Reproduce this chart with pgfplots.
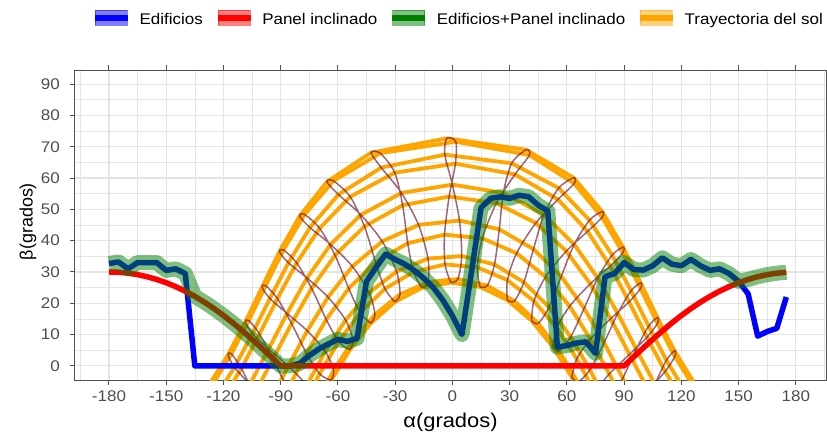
\documentclass[border=0pt]{standalone}
\usepackage{fontspec}
\setmainfont[FakeStretch=1.1]{Liberation Sans}
\newfontfamily\ylabfont{Liberation Sans}
\usepackage{pgfplots}
\pgfplotsset{compat=1.18}
\definecolor{gridc}{RGB}{228,228,228}
\definecolor{tickc}{RGB}{77,77,77}
\definecolor{borderc}{RGB}{80,80,80}
\definecolor{sunc}{RGB}{255,165,0}
\definecolor{anac}{RGB}{110,20,40}
\definecolor{edgreen}{RGB}{0,128,0}
\pgfplotsset{
  sun/.style={sunc, line width=3.8bp, line join=round, forget plot},
  ana/.style={anac, opacity=0.65, line width=1.5bp, smooth, forget plot},
}
\begin{document}
\begin{tikzpicture}
\useasboundingbox (-75bp,-52bp) rectangle (752bp,380bp);
\begin{axis}[
  at={(0,0)}, anchor=south west,
  scale only axis, width=751bp, height=310bp,
  xmin=-197.8, xmax=195.8, ymin=-4.5, ymax=94.5,
  xtick={-180,-150,...,180}, ytick={0,10,...,90},
  minor xtick={-195,-165,...,195}, minor ytick={5,15,...,85},
  grid=both,
  major grid style={gridc, line width=1.1bp},
  minor grid style={gridc, line width=0.55bp},
  tick align=outside, major tick length=5bp, minor tick length=0pt,
  tick style={borderc, line width=1bp},
  axis line style={borderc, line width=1bp},
  /pgf/number format/assume math mode=true,
  ticklabel style={font=\fontsize{15.5}{18}\selectfont, color=tickc},
  xticklabel style={anchor=north, inner sep=0pt, yshift=-6bp},
  yticklabel style={anchor=east, inner sep=0pt, xshift=-10bp},
  xlabel={α(grados)},
  xlabel style={at={(axis description cs:0.5,-0.135)}, anchor=center, font=\fontsize{20}{22}\selectfont},
  ylabel={β(grados)},
  ylabel style={at={(axis description cs:-0.0626,0.511)}, anchor=center, font=\ylabfont\fontsize{18}{20}\selectfont},
  legend columns=4,
  legend cell align=left,
  legend style={draw=none, fill=none, at={(axis description cs:1,1.1677)}, anchor=east,
    font=\fontsize{15.5}{18}\selectfont, nodes={inner sep=0pt},
    /tikz/every odd column/.append style={column sep=12bp},
    /tikz/every even column/.append style={column sep=15bp}},
]
% ---------------- sun trajectories (1st of each month) ----------------
\addplot[sun] coordinates {(-72.56,-15.25) (-63.55,-4.66) (-53.78,5.09) (-42.77,13.62) (-30.19,20.42) (-16.04,24.91) (-0.82,26.60) (14.46,25.24) (28.76,21.02) (41.50,14.44) (52.67,6.07) (62.56,-3.58) (71.62,-14.09)};
\addplot[sun] coordinates {(-78.90,-13.52) (-69.59,-2.53) (-59.60,7.78) (-48.37,17.02) (-35.37,24.65) (-20.39,30.01) (-3.85,32.41) (13.03,31.50) (28.82,27.40) (42.72,20.72) (54.70,12.13) (65.18,2.25) (74.72,-8.48)};
\addplot[sun] coordinates {(-86.19,-7.27) (-76.48,4.01) (-66.12,14.82) (-54.32,24.73) (-40.27,33.14) (-23.41,39.18) (-4.13,41.92) (15.65,40.76) (33.65,35.98) (48.83,28.43) (61.46,19.06) (72.32,8.56) (82.21,-2.57) (91.87,-13.97)};
\addplot[sun] coordinates {(-103.94,-9.11) (-94.07,2.15) (-84.30,13.56) (-73.79,24.77) (-61.52,35.33) (-46.10,44.56) (-26.08,51.31) (-1.70,54.09) (23.04,51.95) (43.72,45.63) (59.67,36.65) (72.28,26.22) (82.96,15.08) (92.78,3.68) (102.59,-7.63)};
\addplot[sun] coordinates {(-120.87,-11.08) (-110.59,-0.80) (-101.09,10.18) (-91.71,21.52) (-81.61,32.91) (-69.60,43.96) (-53.57,54.02) (-30.22,61.71) (1.58,64.59) (32.80,61.15) (55.32,53.16) (70.84,42.96) (82.61,31.85) (92.60,20.45) (101.97,9.13) (111.51,-1.79) (121.89,-11.99)};
\addplot[sun] coordinates {(-125.69,-5.96) (-115.83,3.85) (-106.74,14.49) (-97.88,25.64) (-88.52,37.03) (-77.48,48.36) (-62.37,59.09) (-37.84,67.93) (1.76,71.60) (40.35,67.35) (63.83,58.27) (78.47,47.46) (89.31,36.12) (98.60,24.73) (107.46,13.62) (116.58,3.03) (126.53,-6.70)};
\addplot[sun] coordinates {(-127.50,-6.08) (-117.61,3.54) (-108.55,14.04) (-99.80,25.11) (-90.66,36.47) (-80.07,47.84) (-65.81,58.77) (-42.64,68.09) (-2.94,72.68) (38.62,69.03) (63.53,60.07) (78.53,49.27) (89.43,37.92) (98.68,26.53) (107.43,15.42) (116.43,4.83) (126.19,-4.92)};
\addplot[sun] coordinates {(-124.51,-10.40) (-114.22,-0.45) (-104.80,10.31) (-95.62,21.54) (-85.95,32.95) (-74.66,44.20) (-59.71,54.73) (-37.30,63.33) (-3.97,67.46) (31.08,64.70) (55.72,56.80) (71.87,46.53) (83.73,35.37) (93.63,23.97) (102.84,12.68) (112.16,1.79) (122.21,-8.36)};
\addplot[sun] coordinates {(-106.10,-5.82) (-96.34,5.37) (-86.64,16.77) (-76.18,28.06) (-63.85,38.79) (-47.99,48.26) (-26.69,55.23) (0,57.90) (26.69,55.23) (47.99,48.26) (63.85,38.79) (76.18,28.06) (86.64,16.77) (96.34,5.37) (106.10,-5.82)};
\addplot[sun] coordinates {(-95.76,-11.48) (-85.99,-0.07) (-76.06,11.20) (-65.18,21.97) (-52.41,31.75) (-36.79,39.77) (-17.73,45.03) (3.70,46.43) (24.58,43.63) (42.48,37.30) (57.02,28.57) (69.04,18.39) (79.50,7.40) (89.29,-3.95) (99.19,-15.33)};
\addplot[sun] coordinates {(-76.37,-6.23) (-66.67,4.60) (-55.98,14.62) (-43.69,23.35) (-29.29,30.15) (-12.81,34.27) (4.85,35.07) (22.05,32.40) (37.44,26.72) (50.64,18.77) (61.98,9.27) (72.05,-1.24) (81.49,-12.35)};
\addplot[sun] coordinates {(-71.42,-11.93) (-62.20,-1.44) (-52.08,8.15) (-40.61,16.42) (-27.47,22.83) (-12.75,26.76) (2.89,27.75) (18.30,25.64) (32.48,20.73) (44.99,13.58) (55.92,4.76) (65.65,-5.20)};
% ---------------- analemmas (hourly) ----------------
\addplot[ana] coordinates {(-0.82,26.60) (-3.85,32.41) (-4.13,41.92) (-1.70,54.09) (1.58,64.59) (1.76,71.60) (-2.94,72.68) (-3.97,67.46) (0,57.90) (3.70,46.43) (4.85,35.07) (2.89,27.75) (-0.82,26.60)};
\addplot[ana] coordinates {(14.46,25.24) (13.03,31.50) (15.65,40.76) (23.04,51.95) (32.80,61.15) (40.35,67.35) (38.62,69.03) (31.08,64.70) (26.69,55.23) (24.58,43.63) (22.05,32.40) (18.30,25.64) (14.46,25.24)};
\addplot[ana] coordinates {(-16.04,24.91) (-20.39,30.01) (-23.41,39.18) (-26.08,51.31) (-30.22,61.71) (-37.84,67.93) (-42.64,68.09) (-37.30,63.33) (-26.69,55.23) (-17.73,45.03) (-12.81,34.27) (-12.75,26.76) (-16.04,24.91)};
\addplot[ana] coordinates {(28.76,21.02) (28.82,27.40) (33.65,35.98) (43.72,45.63) (55.32,53.16) (63.83,58.27) (63.53,60.07) (55.72,56.80) (47.99,48.26) (42.48,37.30) (37.44,26.72) (32.48,20.73) (28.76,21.02)};
\addplot[ana] coordinates {(-30.19,20.42) (-35.37,24.65) (-40.27,33.14) (-46.10,44.56) (-53.57,54.02) (-62.37,59.09) (-65.81,58.77) (-59.71,54.73) (-47.99,48.26) (-36.79,39.77) (-29.29,30.15) (-27.47,22.83) (-30.19,20.42)};
\addplot[ana] coordinates {(41.50,14.44) (42.72,20.72) (48.83,28.43) (59.67,36.65) (70.84,42.96) (78.47,47.46) (78.53,49.27) (71.87,46.53) (63.85,38.79) (57.02,28.57) (50.64,18.77) (44.99,13.58) (41.50,14.44)};
\addplot[ana] coordinates {(-42.77,13.62) (-48.37,17.02) (-54.32,24.73) (-61.52,35.33) (-69.60,43.96) (-77.48,48.36) (-80.07,47.84) (-74.66,44.20) (-63.85,38.79) (-52.41,31.75) (-43.69,23.35) (-40.61,16.42) (-42.77,13.62)};
\addplot[ana] coordinates {(52.67,6.07) (54.70,12.13) (61.46,19.06) (72.28,26.22) (82.61,31.85) (89.31,36.12) (89.43,37.92) (83.73,35.37) (76.18,28.06) (69.04,18.39) (61.98,9.27) (55.92,4.76) (52.67,6.07)};
\addplot[ana] coordinates {(-53.78,5.09) (-59.60,7.78) (-66.12,14.82) (-73.79,24.77) (-81.61,32.91) (-88.52,37.03) (-90.66,36.47) (-85.95,32.95) (-76.18,28.06) (-65.18,21.97) (-55.98,14.62) (-52.08,8.15) (-53.78,5.09)};
\addplot[ana] coordinates {(62.56,-3.58) (65.18,2.25) (72.32,8.56) (82.96,15.08) (92.60,20.45) (98.60,24.73) (98.68,26.53) (93.63,23.97) (86.64,16.77) (79.50,7.40) (72.05,-1.24) (65.65,-5.20) (62.56,-3.58)};
\addplot[ana] coordinates {(-63.55,-4.66) (-69.59,-2.53) (-76.48,4.01) (-84.30,13.56) (-91.71,21.52) (-97.88,25.64) (-99.80,25.11) (-95.62,21.54) (-86.64,16.77) (-76.06,11.20) (-66.67,4.60) (-62.20,-1.44) (-63.55,-4.66)};
\addplot[ana] coordinates {(71.62,-14.09) (74.72,-8.48) (82.21,-2.57) (92.78,3.68) (101.97,9.13) (107.46,13.62) (107.43,15.42) (102.84,12.68) (96.34,5.37) (89.29,-3.95) (81.49,-12.35) (74.69,-15.94) (71.62,-14.09)};
\addplot[ana] coordinates {(-72.56,-15.25) (-78.90,-13.52) (-86.19,-7.27) (-94.07,2.15) (-101.09,10.18) (-106.74,14.49) (-108.55,14.04) (-104.80,10.31) (-96.34,5.37) (-85.99,-0.07) (-76.37,-6.23) (-71.42,-11.93) (-72.56,-15.25)};
\addplot[ana] coordinates {(91.87,-13.97) (102.59,-7.63) (111.51,-1.79) (116.58,3.03) (116.43,4.83) (112.16,1.79) (106.10,-5.82) (99.19,-15.33)};
\addplot[ana] coordinates {(-95.99,-18.68) (-103.94,-9.11) (-110.59,-0.80) (-115.83,3.85) (-117.61,3.54) (-114.22,-0.45) (-106.10,-5.82) (-95.76,-11.48)};
% ---------------- Edificios ----------------
\addplot[blue, line width=5.5bp, line join=round, forget plot] coordinates {
(-180,32.7) (-175,33.2) (-170,31) (-165,33) (-160,33) (-155,33) (-150,30.5) (-145,31) (-140,29.5) (-135,0)
(-130,0) (-125,0) (-120,0) (-115,0) (-110,0) (-105,0) (-100,0) (-95,0) (-90,0) (-85,0)
(-80,0.8) (-75,3.3) (-70,5.4) (-65,7) (-60,8.5) (-55,7.8) (-50,8.8) (-45,27) (-40,31.5) (-35,35.7)
(-30,34) (-25,32.5) (-20,30.5) (-15,28) (-10,25) (-5,21) (0,16) (5,10) (10,30) (15,50.5)
(20,53.5) (25,54) (30,53.5) (35,54.5) (40,54) (45,51.3) (50,49.5) (55,6) (60,6.5) (65,7.3)
(70,7.7) (75,4) (80,28.5) (85,29.5) (90,33) (95,30.8) (100,30.6) (105,32) (110,34.5) (115,32.5)
(120,32) (125,34) (130,32) (135,30.5) (140,31) (145,29.5) (150,27) (155,23) (160,9.5) (165,11)
(170,12) (175,22)};
% ---------------- Panel inclinado ----------------
\addplot[red, line width=5.5bp, line join=round, forget plot] coordinates {
(-180,30) (-175,29.91) (-170,29.62) (-165,29.15) (-160,28.48) (-155,27.62) (-150,26.57) (-145,25.31) (-140,23.86) (-135,22.21)
(-130,20.36) (-125,18.32) (-120,16.10) (-115,13.71) (-110,11.17) (-105,8.50) (-100,5.72) (-95,2.88) (-90,0)
(90,0) (95,2.88) (100,5.72) (105,8.50) (110,11.17) (115,13.71) (120,16.10) (125,18.32) (130,20.36) (135,22.21)
(140,23.86) (145,25.31) (150,26.57) (155,27.62) (160,28.48) (165,29.15) (170,29.62) (175,29.91)};
% ---------------- Edificios + Panel inclinado ----------------
\addplot[edgreen, opacity=0.5, line width=15bp, line join=round, forget plot] coordinates {
(-180,32.7) (-175,33.2) (-170,31) (-165,33) (-160,33) (-155,33) (-150,30.5) (-145,31) (-140,29.5) (-135,22.21)
(-130,20.36) (-125,18.32) (-120,16.10) (-115,13.71) (-110,11.17) (-105,8.50) (-100,5.72) (-95,2.88) (-90,0) (-85,0)
(-80,0.8) (-75,3.3) (-70,5.4) (-65,7) (-60,8.5) (-55,7.8) (-50,8.8) (-45,27) (-40,31.5) (-35,35.7)
(-30,34) (-25,32.5) (-20,30.5) (-15,28) (-10,25) (-5,21) (0,16) (5,10) (10,30) (15,50.5)
(20,53.5) (25,54) (30,53.5) (35,54.5) (40,54) (45,51.3) (50,49.5) (55,6) (60,6.5) (65,7.3)
(70,7.7) (75,4) (80,28.5) (85,29.5) (90,33) (95,30.8) (100,30.6) (105,32) (110,34.5) (115,32.5)
(120,32) (125,34) (130,32) (135,30.5) (140,31) (145,29.5) (150,27) (155,27.62) (160,28.48) (165,29.15)
(170,29.62) (175,29.91)};
% ---------------- legend ----------------
\addlegendimage{legend image code/.code={\fill[blue,opacity=0.5] (0bp,-4.9bp) rectangle (32bp,10.1bp); \fill[blue] (0bp,0bp) rectangle (32bp,5.2bp);}}
\addlegendentry{Edificios}
\addlegendimage{legend image code/.code={\fill[red,opacity=0.5] (0bp,-4.9bp) rectangle (32bp,10.1bp); \fill[red] (0bp,0bp) rectangle (32bp,5.2bp);}}
\addlegendentry{Panel inclinado}
\addlegendimage{legend image code/.code={\fill[edgreen,opacity=0.5] (0bp,-4.9bp) rectangle (32bp,10.1bp); \fill[edgreen] (0bp,0bp) rectangle (32bp,5.2bp);}}
\addlegendentry{Edificios+Panel inclinado}
\addlegendimage{legend image code/.code={\fill[sunc,opacity=0.5] (0bp,-4.9bp) rectangle (32bp,10.1bp); \fill[sunc] (0bp,0bp) rectangle (32bp,5.2bp);}}
\addlegendentry{Trayectoria del sol}
\end{axis}
\end{tikzpicture}
\end{document}
